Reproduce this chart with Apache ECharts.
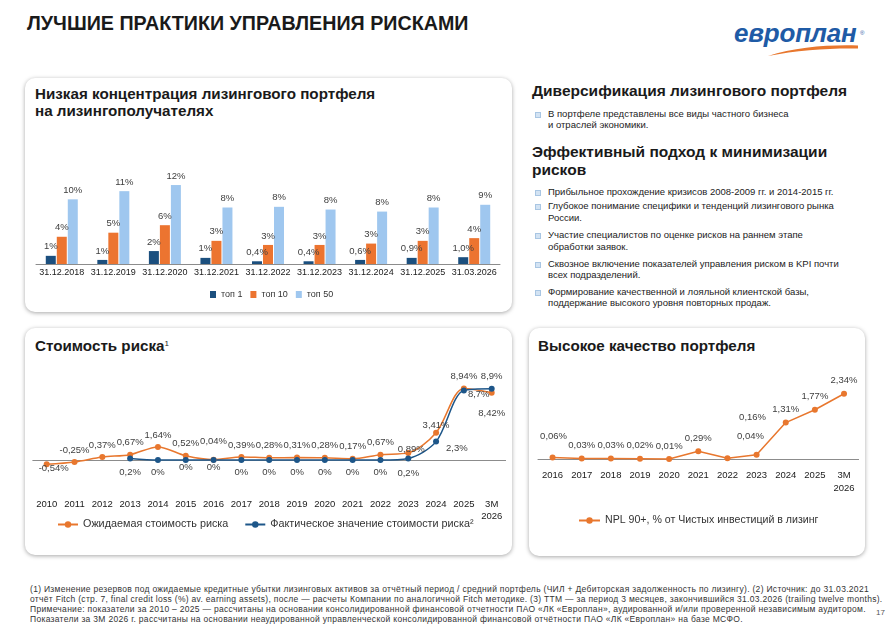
<!DOCTYPE html>
<html>
<head>
<meta charset="utf-8">
<script src="https://cdn.jsdelivr.net/npm/echarts@6/dist/echarts.min.js"></script>
<style>
  body { margin: 0; width: 892px; height: 632px; background: #fff; position: relative; overflow: hidden;
         font-family: "Liberation Sans", Arial, sans-serif; color: #1a1a1a; }
  .abs { position: absolute; }
  .panel { position: absolute; background: #fff; border-radius: 10px; box-shadow: 0 1px 4px rgba(0,0,0,0.35); z-index: 1; }
  .h { position: absolute; font-weight: bold; font-size: 15.2px; line-height: 16.7px; z-index: 2; white-space: nowrap; }
  .rh { position: absolute; left: 532px; font-weight: bold; font-size: 15.5px; line-height: 17.6px; z-index: 2; white-space: nowrap; }
  .li { position: absolute; left: 548px; font-size: 9.5px; line-height: 11.6px; color: #222; white-space: nowrap; z-index: 2; }
  .li:before { content: ""; position: absolute; left: -13px; top: 4px; width: 4px; height: 4px; background: #d3e3f3; border: 0.5px solid #a9c6e3; }
  sup { font-size: 8px; font-weight: normal; position: relative; top: 1px; }
  #chart { position: absolute; left: 0; top: 0; width: 892px; height: 632px; z-index: 5; }
  .foot { left: 30px; top: 585px; font-size: 8.5px; line-height: 9.9px; letter-spacing: 0.3px; color: #333; white-space: nowrap; }
</style>
</head>
<body>
<div class="abs" style="left:27px;top:13px;font-size:19.7px;line-height:20px;font-weight:bold;">ЛУЧШИЕ ПРАКТИКИ УПРАВЛЕНИЯ РИСКАМИ</div>

<div class="abs" style="left:734px;top:20px;font-size:26px;line-height:26px;font-weight:bold;font-style:italic;color:#1f5ba6;letter-spacing:-0.2px;z-index:3;">европлан</div>
<div class="abs" style="left:860px;top:30px;font-size:6px;color:#1f5ba6;z-index:3;">®</div>
<svg class="abs" style="left:0;top:0;z-index:3;" width="892" height="70">
  <path d="M768 56 C 795 47, 830 44.5, 858 45.5 L858 48.5 C 830 48, 798 50, 768 56 Z" fill="#e8772e"/>
</svg>

<div class="panel" style="left:25px;top:78px;width:487px;height:234px;"></div>
<div class="panel" style="left:25px;top:328px;width:487px;height:227px;"></div>
<div class="panel" style="left:529px;top:328px;width:336px;height:228px;"></div>

<div class="h" style="left:35px;top:86px;">Низкая концентрация лизингового портфеля<br>на лизингополучателях</div>
<div class="h" style="left:35px;top:335px;">Стоимость риска<sup>1</sup></div>
<div class="h" style="left:538px;top:338px;">Высокое качество портфеля</div>

<div class="rh" style="top:82px;">Диверсификация лизингового портфеля</div>
<div class="li" style="top:107.5px;">В портфеле представлены все виды частного бизнеса<br>и отраслей экономики.</div>
<div class="rh" style="top:143px;">Эффективный подход к минимизации<br>рисков</div>
<div class="li" style="top:186px;">Прибыльное прохождение кризисов 2008-2009 гг. и 2014-2015 гг.</div>
<div class="li" style="top:200.2px;">Глубокое понимание специфики и тенденций лизингового рынка<br>России.</div>
<div class="li" style="top:229.2px;">Участие специалистов по оценке рисков на раннем этапе<br>обработки заявок.</div>
<div class="li" style="top:257.5px;">Сквозное включение показателей управления риском в KPI почти<br>всех подразделений.</div>
<div class="li" style="top:285.9px;">Формирование качественной и лояльной клиентской базы,<br>поддержание высокого уровня повторных продаж.</div>

<div class="abs foot">(1) Изменение резервов под ожидаемые кредитные убытки лизинговых активов за отчётный период / средний портфель (ЧИЛ + Дебиторская задолженность по лизингу). (2) Источник: до 31.03.2021<br>отчёт Fitch (стр. 7, final credit loss (%) av. earning assets), после — расчеты Компании по аналогичной Fitch методике. (3) TTM — за период 3 месяцев, закончившийся 31.03.2026 (trailing twelve months).<br>Примечание: показатели за 2010 – 2025 — рассчитаны на основании консолидированной финансовой отчетности ПАО «ЛК «Европлан», аудированной и/или проверенной независимым аудитором.<br>Показатели за 3М 2026 г. рассчитаны на основании неаудированной управленческой консолидированной финансовой отчётности ПАО «ЛК «Европлан» на базе МСФО.</div>
<div class="abs" style="left:876px;top:608px;font-size:8px;color:#555;">17</div>

<div id="chart"></div>

<script>
// концентрация портфеля
const barCats = ['31.12.2018', '31.12.2019', '31.12.2020', '31.12.2021', '31.12.2022', '31.12.2023', '31.12.2024', '31.12.2025', '31.03.2026'];
const top1 = [1.2, 0.6, 1.9, 0.9, 0.4, 0.4, 0.6, 0.9, 1.0];
const top1Labels = ['1%', '1%', '2%', '1%', '0,4%', '0,4%', '0,6%', '0,9%', '1,0%'];
const top10 = [4.0, 4.6, 5.7, 3.4, 2.8, 2.8, 3.0, 3.4, 3.8];
const top50 = [9.5, 10.7, 11.6, 8.3, 8.4, 8.0, 7.7, 8.3, 8.7];

// стоимость риска
const corYears = ['2010', '2011', '2012', '2013', '2014', '2015', '2016', '2017', '2018', '2019', '2020', '2021', '2022', '2023', '2024', '2025', '3M\n2026'];
const corExpected = [-0.54, -0.25, 0.37, 0.67, 1.64, 0.52, 0.04, 0.39, 0.28, 0.31, 0.28, 0.17, 0.67, 0.89, 3.41, 8.94, 8.42];
const corActual = [null, null, null, 0.2, 0, 0, 0, 0, 0, 0, 0, 0, 0, 0.2, 2.3, 8.7, 8.9];

// NPL 90+
const nplYears = ['2016', '2017', '2018', '2019', '2020', '2021', '2022', '2023', '2024', '2025', '3M\n2026'];
const nplValues = [0.06, 0.03, 0.03, 0.02, 0.01, 0.29, 0.04, 0.16, 1.31, 1.77, 2.34];

const ORANGE = '#e8772e';
const NAVY = '#1d5689';
const AXIS = '#8c8c8c';
const TXT = '#1a1a1a';
const LBL = '#404040';
const fmt = p => String(p.value).replace('.', ',') + '%';

// ручная раскладка подписей, как на слайде
const expTweaks = {
  0: { position: 'bottom', distance: 0, offset: [7, -4] },
  6: { distance: 10 },
  13: { offset: [3, 8] },
  14: { offset: [0, 5] },
  16: { position: 'bottom', distance: 13 }
};
const actTweaks = {
  3: { distance: 6 },
  5: { distance: -1 },
  6: { distance: -1 },
  13: { distance: 6.5 },
  14: { position: 'right', distance: 7, offset: [0, 7] },
  15: { position: 'right', distance: 1, offset: [0, 4] },
  16: { position: 'top', distance: 4.5 }
};
const nplTweaks = {
  0: { offset: [1, -8] },
  6: { offset: [23, -9] },
  7: { offset: [-4, -24] }
};
function withLabels(values, tweaks) {
  return values.map((v, i) => tweaks[i] ? { value: v, label: tweaks[i] } : v);
}

const chart = echarts.init(document.getElementById('chart'));
const labelBase = { show: true, fontSize: 9.5, color: LBL, formatter: fmt };

chart.setOption({
  animation: false,
  textStyle: { fontFamily: '"Liberation Sans", Arial, sans-serif' },
  grid: [
    { left: 36, width: 464, top: 168.7, height: 95.3 },
    { left: 32.8, width: 472.8, top: 380, height: 116 },
    { left: 538, width: 320.6, top: 389.3, height: 70 }
  ],
  legend: [
    {
      data: ['топ 1', 'топ 10', 'топ 50'], left: 210, top: 290, padding: 0,
      icon: 'rect', itemWidth: 6, itemHeight: 7, itemGap: 8,
      textStyle: { fontSize: 9, color: '#333' }
    },
    {
      data: ['Ожидаемая стоимость риска', 'Фактическое значение стоимости риска²'], left: 57, top: 519, padding: 0,
      itemWidth: 20, itemHeight: 8, itemGap: 16,
      textStyle: { fontSize: 10.8, color: '#333' }
    },
    {
      data: ['NPL 90+, % от Чистых инвестиций в лизинг'], left: 578, top: 515, padding: 0,
      itemWidth: 21, itemHeight: 8,
      textStyle: { fontSize: 10.6, color: '#333' }
    }
  ],
  xAxis: [
    {
      gridIndex: 0, type: 'category', data: barCats,
      axisLine: { lineStyle: { color: AXIS } },
      axisTick: { length: 3, lineStyle: { color: AXIS } },
      axisLabel: { color: TXT, fontSize: 9, margin: 4, interval: 0 }
    },
    {
      gridIndex: 1, type: 'category', data: corYears, position: 'bottom',
      axisLine: { show: false, onZero: false }, axisTick: { show: false },
      axisLabel: { color: TXT, fontSize: 9.5, margin: 3, lineHeight: 11.5, interval: 0 }
    },
    {
      gridIndex: 1, type: 'category', data: corYears, position: 'top',
      axisLine: { onZero: true, lineStyle: { color: AXIS } },
      axisTick: { inside: true, length: 4, lineStyle: { color: AXIS } },
      axisLabel: { show: false }
    },
    {
      gridIndex: 2, type: 'category', data: nplYears,
      axisLine: { lineStyle: { color: AXIS } },
      axisTick: { length: 4, lineStyle: { color: AXIS } },
      axisLabel: { color: TXT, fontSize: 9.5, margin: 10, lineHeight: 13, interval: 0 }
    }
  ],
  yAxis: [
    { gridIndex: 0, type: 'value', min: 0, max: 14, show: false },
    { gridIndex: 1, type: 'value', min: -4.5, max: 10, show: false },
    { gridIndex: 2, type: 'value', min: 0, max: 2.5, show: false }
  ],
  series: [
    {
      name: 'топ 1', type: 'bar', xAxisIndex: 0, yAxisIndex: 0, data: top1,
      barWidth: 10, barGap: '10%', itemStyle: { color: '#1b4f7e' },
      label: { show: true, position: 'top', distance: 4, fontSize: 9.5, color: LBL, formatter: p => top1Labels[p.dataIndex] }
    },
    {
      name: 'топ 10', type: 'bar', xAxisIndex: 0, yAxisIndex: 0, data: top10,
      barWidth: 10, barGap: '10%', itemStyle: { color: '#ec7430' },
      label: { show: true, position: 'top', distance: 4, fontSize: 9.5, color: LBL, formatter: p => Math.round(p.value) + '%' }
    },
    {
      name: 'топ 50', type: 'bar', xAxisIndex: 0, yAxisIndex: 0, data: top50,
      barWidth: 10, barGap: '10%', itemStyle: { color: '#9fc7ef' },
      label: { show: true, position: 'top', distance: 4, fontSize: 9.5, color: LBL, formatter: p => Math.round(p.value) + '%' }
    },
    {
      name: 'Ожидаемая стоимость риска', type: 'line', xAxisIndex: 1, yAxisIndex: 1,
      data: withLabels(corExpected, expTweaks), smooth: 0.3,
      symbol: 'circle', symbolSize: 6, lineStyle: { width: 1.5, color: ORANGE }, itemStyle: { color: ORANGE },
      label: Object.assign({ position: 'top', distance: 4 }, labelBase)
    },
    {
      name: 'Фактическое значение стоимости риска²', type: 'line', xAxisIndex: 1, yAxisIndex: 1,
      data: withLabels(corActual, actTweaks), smooth: 0.3,
      symbol: 'circle', symbolSize: 6, lineStyle: { width: 1.5, color: NAVY }, itemStyle: { color: NAVY },
      label: Object.assign({ position: 'bottom', distance: 4.5 }, labelBase)
    },
    {
      name: 'NPL 90+, % от Чистых инвестиций в лизинг', type: 'line', xAxisIndex: 3, yAxisIndex: 2,
      data: withLabels(nplValues, nplTweaks),
      symbol: 'circle', symbolSize: 6, lineStyle: { width: 1.5, color: ORANGE }, itemStyle: { color: ORANGE },
      label: Object.assign({ position: 'top', distance: 5 }, labelBase)
    }
  ]
});
</script>
</body>
</html>
